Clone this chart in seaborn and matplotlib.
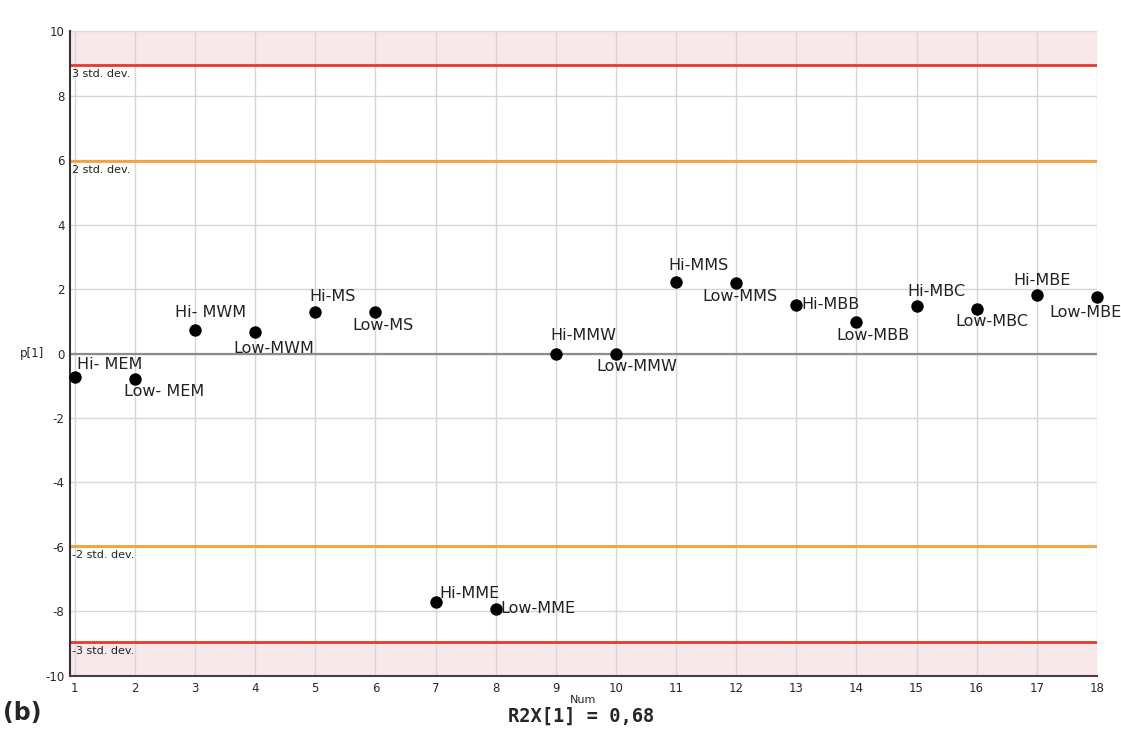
import matplotlib
matplotlib.use("Agg")
import matplotlib.pyplot as plt
import seaborn as sns
import pandas as pd

# Loading values of the first component for each sample
num = list(range(1, 19))
samples = ["Hi- MEM", "Low- MEM", "Hi- MWM", "Low-MWM", "Hi-MS", "Low-MS",
           "Hi-MME", "Low-MME", "Hi-MMW", "Low-MMW", "Hi-MMS", "Low-MMS",
           "Hi-MBB", "Low-MBB", "Hi-MBC", "Low-MBC", "Hi-MBE", "Low-MBE"]
p1 = [-0.72, -0.79, 0.73, 0.66, 1.30, 1.28,
      -7.70, -7.93, 0.0, 0.0, 2.23, 2.18,
      1.50, 0.99, 1.47, 1.38, 1.81, 1.74]

# Control limits (standard deviations)
sd2_limit = 5.97
sd3_limit = 8.95
y_ticks = [10, 8, 6, 4, 2, 0, -2, -4, -6, -8, -10]

df = pd.DataFrame({"Num": num, "p1": p1, "sample": samples})

# Label placement: (dx, dy) in pixels and horizontal alignment
label_style = {
    "Hi- MEM": (2, 12, "left"), "Low- MEM": (29, -13, "center"),
    "Hi- MWM": (16, 17, "center"), "Low-MWM": (19, -16, "center"),
    "Hi-MS": (17, 15, "center"), "Low-MS": (8, -13, "center"),
    "Hi-MME": (4, 8, "left"), "Low-MME": (5, 1, "left"),
    "Hi-MMW": (28, 18, "center"), "Low-MMW": (21, -13, "center"),
    "Hi-MMS": (22, 16, "center"), "Low-MMS": (4, -13, "center"),
    "Hi-MBB": (5, 1, "left"), "Low-MBB": (17, -14, "center"),
    "Hi-MBC": (20, 15, "center"), "Low-MBC": (15, -12, "center"),
    "Hi-MBE": (5, 15, "center"), "Low-MBE": (-11, -15, "center"),
}

sns.set_style("white")
plt.rcParams["font.family"] = ["DejaVu Sans"]

fig = plt.figure(figsize=(11.21, 7.39), dpi=100)
ax = fig.add_axes([0.0624, 0.0853, 0.9161, 0.8727])
ax.set_xlim(0.92, 18)
ax.set_ylim(-10, 10)

# Shaded zones beyond 3 std. dev.
ax.axhspan(sd3_limit, 10, color="#f8e8ea", zorder=0, lw=0)
ax.axhspan(-10, -sd3_limit, color="#f8e8ea", zorder=0, lw=0)

# Grid
for x in num:
    ax.axvline(x, color="#d6d6d6", lw=1, zorder=1)
for y in y_ticks:
    ax.axhline(y, color="#d6d6d6", lw=1, zorder=1)
ax.axhline(0, color="#8c8c8c", lw=1.6, zorder=2)

# Control limit lines
ax.axhline(sd3_limit, color="#e8392a", lw=2, zorder=2)
ax.axhline(-sd3_limit, color="#e8392a", lw=2, zorder=2)
ax.axhline(sd2_limit, color="#f5a038", lw=2, zorder=2)
ax.axhline(-sd2_limit, color="#f5a038", lw=2, zorder=2)

limit_labels = [(sd3_limit, "3 std. dev."), (sd2_limit, "2 std. dev."),
                (-sd2_limit, "-2 std. dev."), (-sd3_limit, "-3 std. dev.")]
for yv, txt in limit_labels:
    ax.annotate(txt, (0.92, yv), xytext=(2, -4), textcoords="offset pixels",
                ha="left", va="top", fontsize=8, color="#222222", zorder=4)

sns.scatterplot(data=df, x="Num", y="p1", ax=ax, color="black", s=80,
                edgecolor="black", linewidth=0, zorder=5, legend=False,
                clip_on=False)

for xv, yv, name in zip(num, p1, samples):
    dx, dy, ha = label_style[name]
    ax.annotate(name, (xv, yv), xytext=(dx, dy), textcoords="offset pixels",
                ha=ha, va="center", fontsize=11.5, color="#222222",
                zorder=6, annotation_clip=False)

ax.set_xticks(num)
ax.set_xticklabels([str(n) for n in num], fontsize=8.5)
ax.set_yticks(y_ticks)
ax.set_yticklabels([str(t) for t in y_ticks], fontsize=8.5)
ax.tick_params(axis="both", length=0, pad=4)

for side in ["top", "right"]:
    ax.spines[side].set_visible(False)
ax.spines["left"].set_color("#333333")
ax.spines["left"].set_linewidth(1.5)
ax.spines["bottom"].set_color("#4a3a55")
ax.spines["bottom"].set_linewidth(1.5)

ax.set_xlabel("Num", fontsize=8, labelpad=0)
ax.set_ylabel("p[1]", fontsize=8.5, rotation=0, va="center")
ax.yaxis.set_label_coords(-0.037, 0.5)

fig.text(0.518, 0.031, "R2X[1] = 0,68", ha="center", va="center",
         fontsize=13.5, fontweight="bold", family="DejaVu Sans Mono")
fig.text(0.003, 0.035, "(b)", ha="left", va="center", fontsize=17,
         fontweight="bold")

fig.savefig("out.png", dpi=100)
